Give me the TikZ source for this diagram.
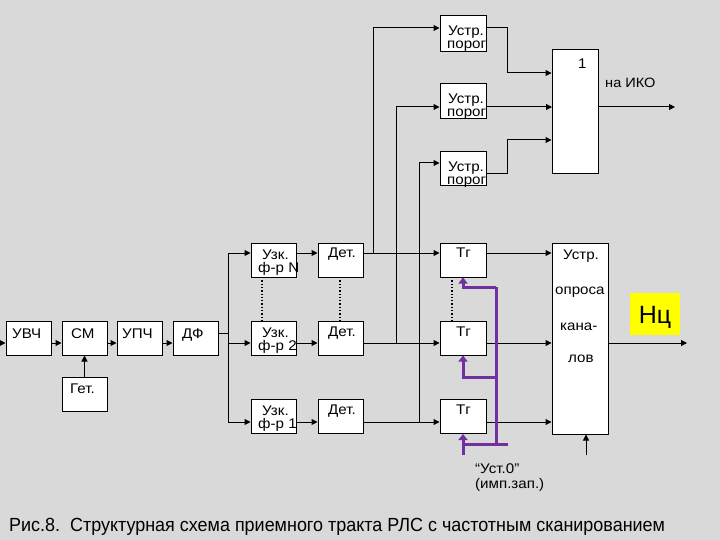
\documentclass[tikz,border=0pt]{standalone}
\usepackage{fontspec}
\setmainfont{Liberation Sans}
\newfontfamily\boxfont[FakeStretch=1.08]{Liberation Sans}
\newfontfamily\capfont[FakeStretch=0.945]{Liberation Sans}
\usetikzlibrary{arrows.meta}
\definecolor{bg}{HTML}{D9D9D9}
\definecolor{purp}{HTML}{7030A0}
\definecolor{yel}{HTML}{FFFF00}
\begin{document}
\begin{tikzpicture}[x=1pt,y=-1pt,
  blk/.style={draw=black, fill=white, line width=1pt, inner sep=0pt, minimum width=45pt, minimum height=34pt},
  txt/.style={anchor=base west, inner sep=0pt, font=\boxfont\fontsize{14}{14}\selectfont},
  ln/.style={line width=1pt},
  arr/.style={line width=1pt, -{Triangle[length=6pt,width=6pt]}},
  dots/.style={line width=1.3pt, dotted},
  pl/.style={line width=3pt, purp},
  parr/.style={line width=3pt, purp, -{Triangle[length=6pt,width=9pt]}}
]
\fill[bg] (0,0) rectangle (720,540);
\useasboundingbox (0,0) rectangle (720,540);

% row coordinates
\coordinate (rN) at (0,253);
\coordinate (r2) at (0,343);
\coordinate (r1) at (0,422);
\coordinate (rc) at (0,343);

% top threshold boxes
\node[blk, minimum width=46pt, minimum height=36pt] (p1) at (463,34) {};
\node[blk, minimum width=46pt, minimum height=35pt] (p2) at (463,101.5) {};
\node[blk, minimum width=46pt, minimum height=34pt] (p3) at (463,169) {};
\node[blk, minimum width=46pt, minimum height=124pt] (or) at (575,112) {};

% middle rows
\node[blk] (uzN) at (273.5,260) {};
\node[blk] (uz2) at (273.5,338) {};
\node[blk] (uz1) at (273.5,416.5) {};
\node[blk] (dtN) at (340.5,260) {};
\node[blk] (dt2) at (340.5,338) {};
\node[blk] (dt1) at (340.5,416.5) {};
\node[blk, minimum width=46pt] (tgN) at (463,260) {};
\node[blk, minimum width=46pt] (tg2) at (463,338) {};
\node[blk, minimum width=46pt] (tg1) at (463,416.5) {};
\node[blk, minimum width=56pt, minimum height=191pt] (op) at (580,338.5) {};

% chain
\node[blk] (uvch) at (28.5,338) {};
\node[blk] (sm) at (84.5,338) {};
\node[blk] (upch) at (139.5,338) {};
\node[blk] (df) at (195.5,338) {};
\node[blk] (get) at (84.5,394) {};

% yellow label
\node[fill=yel, minimum width=50pt, minimum height=42pt, inner sep=0pt] (nc) at (655,314) {};
\node[anchor=base, inner sep=0pt, font=\fontsize{25}{25}\selectfont] (nct) at (655,323) {Нц};

% texts
\node[txt] (t1a) at (448,36) {Устр.};
\node[txt] (t1b) at (447,49) {порог};
\node[txt] (t2a) at (448,104) {Устр.};
\node[txt] (t2b) at (447,117) {порог};
\node[txt] (t3a) at (448,172) {Устр.};
\node[txt] (t3b) at (447,185) {порог};
\node[txt] (tone) at (578,69) {1};
\node[txt, font=\boxfont\fontsize{13.5}{14}\selectfont] (tiko) at (605,88) {на ИКО};

\node[txt] (uNa) at (262,259) {Узк.};
\node[txt] (uNb) at (258,272) {ф-р N};
\node[txt] (u2a) at (262,337) {Узк.};
\node[txt] (u2b) at (258,350) {ф-р 2};
\node[txt] (u1a) at (262,415) {Узк.};
\node[txt] (u1b) at (258,428) {ф-р 1};
\node[txt] (dNa) at (328,258) {Дет.};
\node[txt] (d2a) at (328,336) {Дет.};
\node[txt] (d1a) at (328,414) {Дет.};
\node[txt] (gNa) at (456,258) {Тг};
\node[txt] (g2a) at (456,336) {Тг};
\node[txt] (g1a) at (456,414) {Тг};

\node[txt] (oa) at (563,259) {Устр.};
\node[txt] (ob) at (555,294) {опроса};
\node[txt] (oc) at (560,330) {кана-};
\node[txt] (od) at (568,362) {лов};

\node[txt] (cuv) at (12,338) {УВЧ};
\node[txt] (csm) at (71,338) {СМ};
\node[txt] (cup) at (122,338) {УПЧ};
\node[txt] (cdf) at (182,338) {ДФ};
\node[txt] (cget) at (70,393) {Гет.};

\node[txt] (u0a) at (475,473) {“Уст.0”};
\node[txt] (u0b) at (475,488) {(имп.зап.)};

\node[anchor=base west, inner sep=0pt, font=\capfont\fontsize{19}{19}\selectfont] (cap) at (9,531.5)
  {Рис.8.\ \ Структурная схема приемного тракта РЛС с частотным сканированием};

% chain connections
\coordinate (inl) at (-2,343);
\draw[arr] (inl) -- (uvch.west |- rc);
\draw[arr] (uvch.east |- rc) -- (sm.west |- rc);
\draw[arr] (sm.east |- rc) -- (upch.west |- rc);
\draw[arr] (upch.east |- rc) -- (df.west |- rc);
\draw[arr] (get.north) -- (sm.south);
\coordinate (bus) at (228,333);
\draw[ln] (df.east |- bus) -- (bus);
\coordinate (busN) at (228,253);
\coordinate (bus1) at (228,422);
\draw[ln] (busN) -- (bus1);
\draw[arr] (busN) -- (uzN.west |- rN);
\draw[arr] (busN |- r2) -- (uz2.west |- r2);
\draw[arr] (bus1) -- (uz1.west |- r1);

% filter -> detector -> trigger -> poll
\foreach \r/\n in {rN/N,r2/2,r1/1}{
  \draw[arr] (uz\n.east |- \r) -- (dt\n.west |- \r);
  \draw[arr] (dt\n.east |- \r) -- (tg\n.west |- \r);
  \draw[arr] (tg\n.east |- \r) -- (op.west |- \r);
}
\coordinate (opo) at (687,343);
\draw[arr] (op.east |- r2) -- (opo);
\coordinate (opi) at (586,455);
\draw[arr] (opi) -- (opi |- op.south);

% dotted
\draw[dots] (262,277) -- (262,321);
\draw[dots] (340,277) -- (340,321);
\draw[dots] (452,277) -- (452,321);

% verticals up to threshold devices
\coordinate (vA) at (373,253);
\coordinate (vAt) at (373,28);
\coordinate (vB) at (396,343);
\coordinate (vBt) at (396,107);
\coordinate (vC) at (419,422);
\coordinate (vCt) at (419,163);
\draw[ln] (vA) -- (vAt);
\draw[arr] (vAt) -- (p1.west |- vAt);
\draw[ln] (vB) -- (vBt);
\draw[arr] (vBt) -- (p2.west |- vBt);
\draw[ln] (vC) -- (vCt);
\draw[arr] (vCt) -- (p3.west |- vCt);

% thresholds -> OR
\coordinate (o1) at (507,28);
\coordinate (o1b) at (507,73);
\draw[arr] (p1.east |- o1) -- (o1) -- (o1b) -- (or.west |- o1b);
\coordinate (o2) at (552,107);
\draw[arr] (p2.east |- o2) -- (o2);
\coordinate (o3) at (507,174);
\coordinate (o3b) at (507,140);
\draw[arr] (p3.east |- o3) -- (o3) -- (o3b) -- (or.west |- o3b);
\coordinate (iko) at (675,107);
\draw[arr] (or.east |- iko) -- (iko);

% purple reset lines
\coordinate (pv1) at (496,287);
\coordinate (pv2) at (496,444);
\coordinate (pm) at (496,377);
\coordinate (pb1) at (463,444);
\coordinate (pb2) at (508,444);
\coordinate (pin) at (463,455);
\draw[pl] (pv1) -- (pv2);
\draw[pl] (pb1) -- (pb2);
\draw[parr] (pv1) -- (tgN.south |- pv1) -- (tgN.south);
\draw[parr] (pm) -- (tg2.south |- pm) -- (tg2.south);
\draw[parr] (pin) -- (tg1.south);
\end{tikzpicture}
\end{document}
